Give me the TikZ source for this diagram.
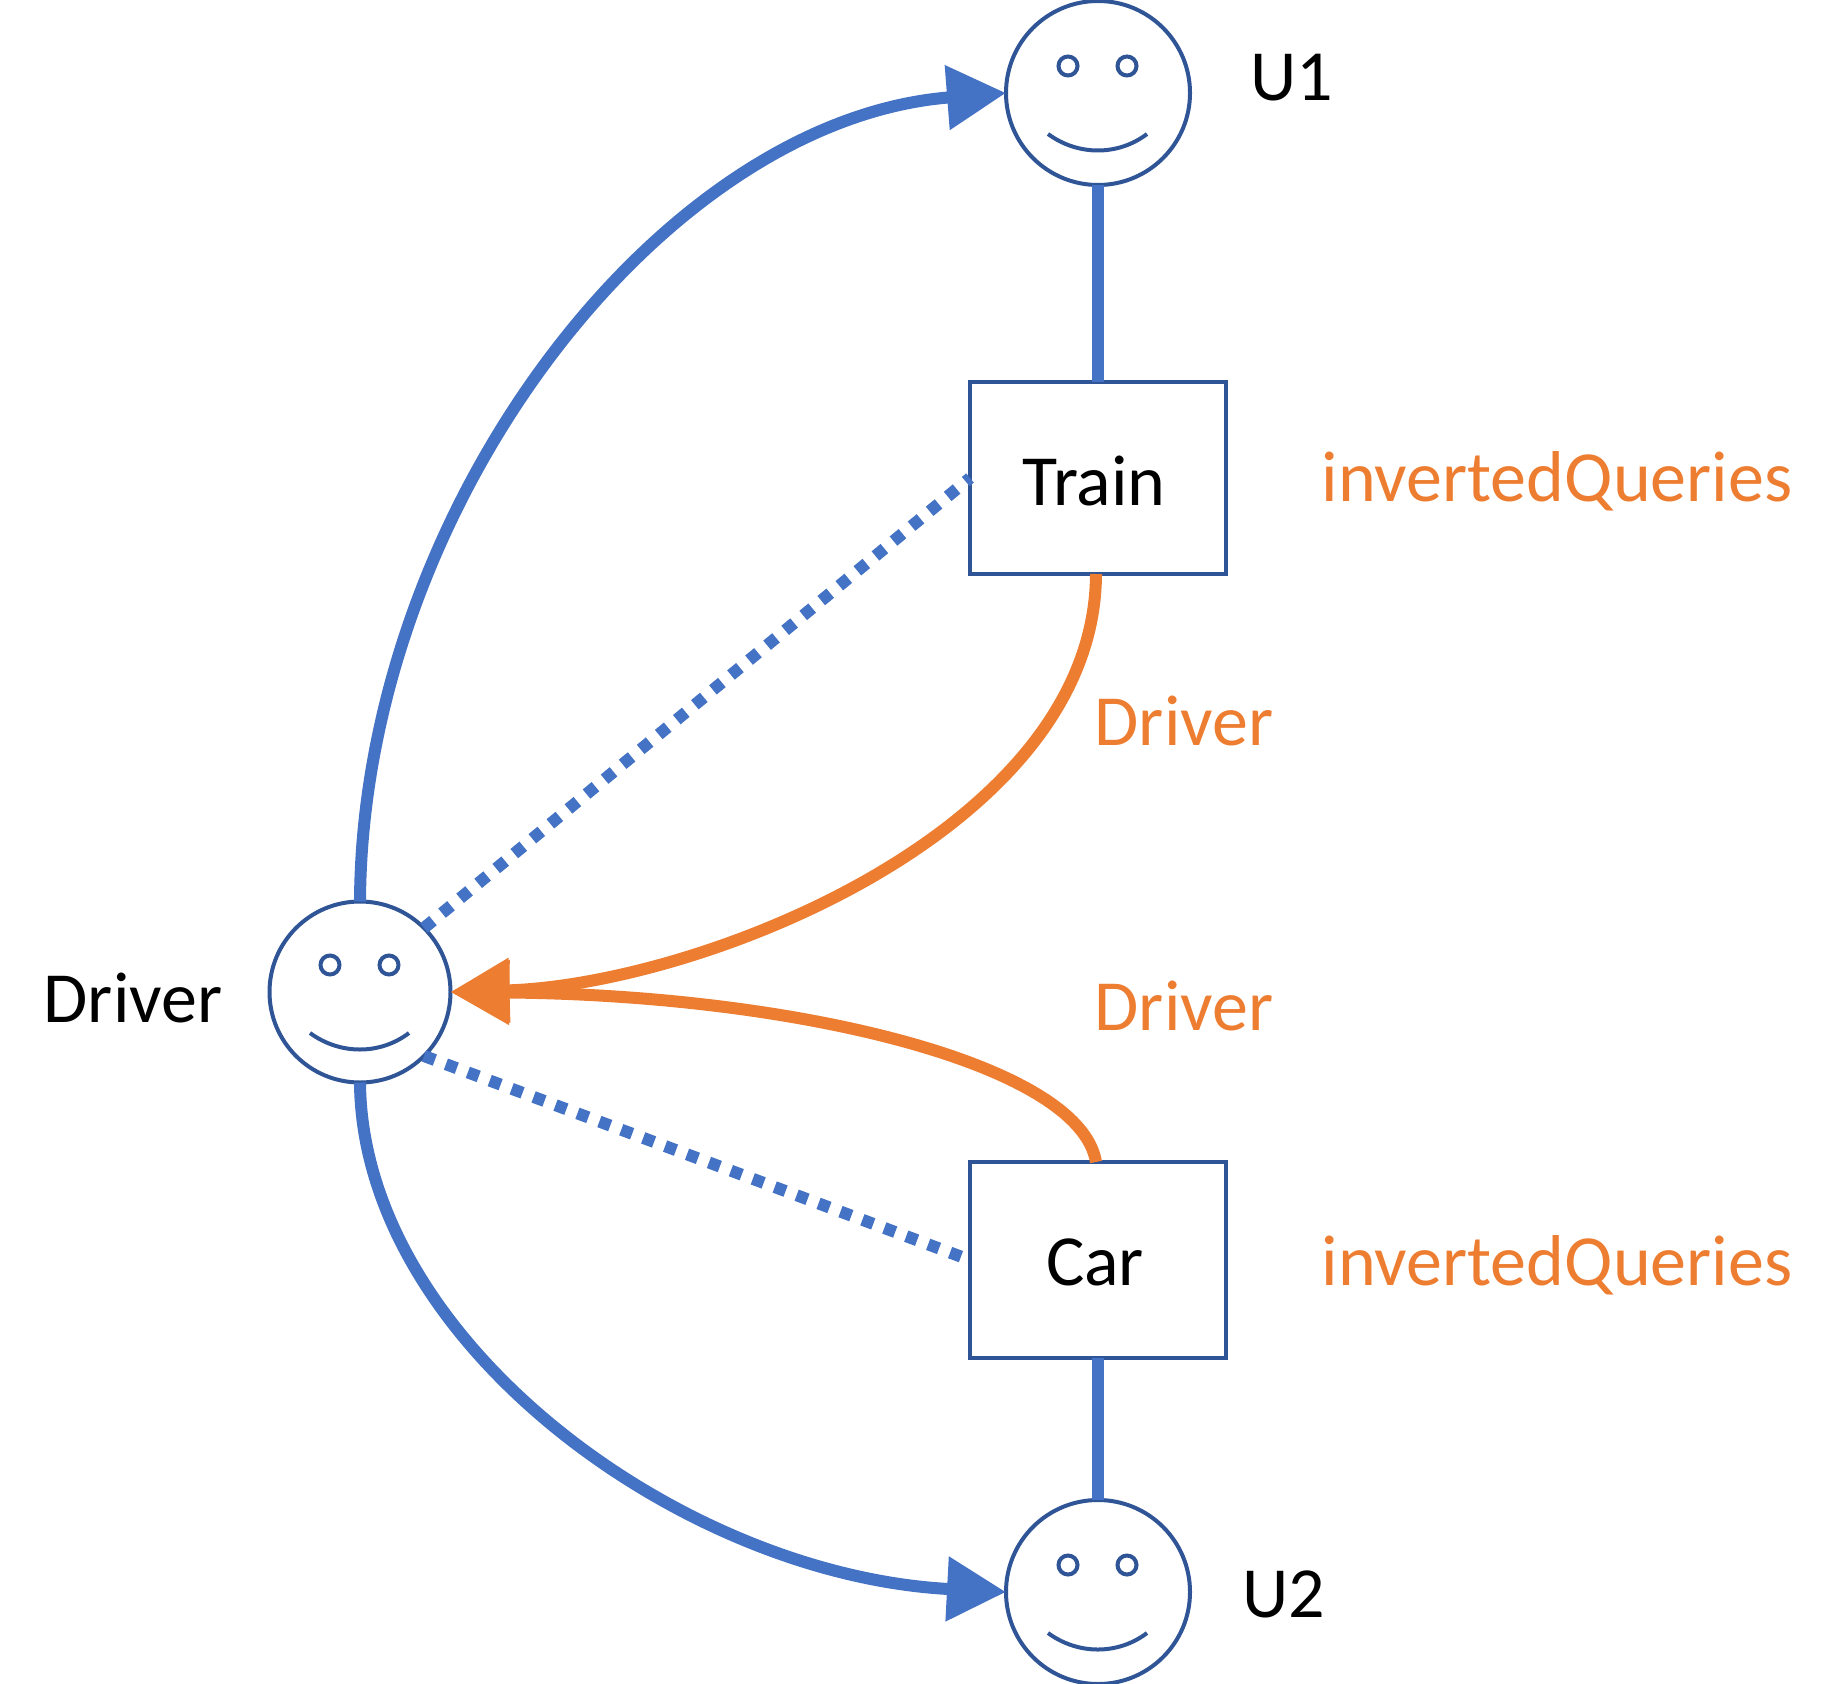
\documentclass[tikz,border=0pt]{standalone}
\usepackage{fontspec}
\setmainfont{Carlito}
\usetikzlibrary{arrows.meta}
\definecolor{linkblue}{HTML}{4472C4}
\definecolor{edgeblue}{HTML}{2F5597}
\definecolor{accent}{HTML}{ED7D31}
\tikzset{
  facebox/.style={circle,draw=edgeblue,line width=2pt,fill=white,minimum size=92pt,inner sep=0pt,outer sep=0pt},
  rectbox/.style={rectangle,draw=edgeblue,line width=2pt,fill=white,minimum width=128pt,inner sep=0pt,outer sep=0pt},
  lbl/.style={font=\fontsize{36}{40}\selectfont,inner sep=0pt},
  olbl/.style={lbl,text=accent},
  solidlink/.style={linkblue,line width=6pt},
  dotlink/.style={linkblue,line width=6pt,dash pattern=on 5.8pt off 5.9pt},
  curvelink/.style={linkblue,line width=6pt,-{Triangle[length=29.5pt,width=31pt]}},
  orangelink/.style={accent,line width=6pt,-{Triangle[length=29.5pt,width=31pt]}},
  facepart/.style={edgeblue,line width=2pt},
  pics/smiley/.style={code={
    \draw[facepart] (-30,-27) circle (9.5);
    \draw[facepart] (29,-27) circle (9.5);
    \draw[facepart] (-50,41) .. controls (-20,63) and (20,63) .. (49,41);
  }}
}
\begin{document}
\begin{tikzpicture}[x=0.5pt,y=-0.5pt]
\useasboundingbox (0,0) rectangle (1840,1684);
\coordinate (cU1) at (1098,93);
\coordinate (cD) at (360,992);
\coordinate (cU2) at (1098,1592);
\node[facebox] (u1) at (cU1) {};
\node[facebox,minimum size=90.5pt] (drv) at (cD) {};
\node[facebox] (u2) at (cU2) {};
\node[rectbox,minimum height=96pt] (train) at (1098,478) {};
\node[rectbox,minimum height=98pt] (car) at (1098,1260) {};
\pic at (cU1) {smiley};
\pic at (cD) {smiley};
\pic at (cU2) {smiley};

\draw[solidlink] (u1.south) -- (train.north);
\draw[solidlink] (car.south) -- (u2.north);
\draw[dotlink] (drv.45) -- (train.west);
\draw[dotlink] (drv.-45) -- (car.west);
\draw[curvelink] (drv.north) .. controls (362,510) and (660,120) .. (u1.west);
\draw[curvelink] (drv.south) .. controls (362,1340) and (680,1575) .. (u2.west);
\draw[orangelink] ([xshift=-1pt]train.south) .. controls (1095,830) and (700,985) .. (drv.east);
\draw[orangelink] ([xshift=-1pt]car.north) .. controls (1080,1065) and (800,995) .. (drv.east);

\node[lbl] (t1) at (1094,481) {Train};
\node[lbl] (t2) at (1095,1262) {Car};
\node[lbl] (lu1) at (1292,78) {U1};
\node[lbl] (lu2) at (1284,1594) {U2};
\node[lbl] (ld) at (133,998) {Driver};
\node[olbl] (o1) at (1557,481) {invertedQueries};
\node[olbl] (o2) at (1557,1265) {invertedQueries};
\node[olbl] (o3) at (1184,721) {Driver};
\node[olbl] (o4) at (1184,1006) {Driver};
\end{tikzpicture}
\end{document}
